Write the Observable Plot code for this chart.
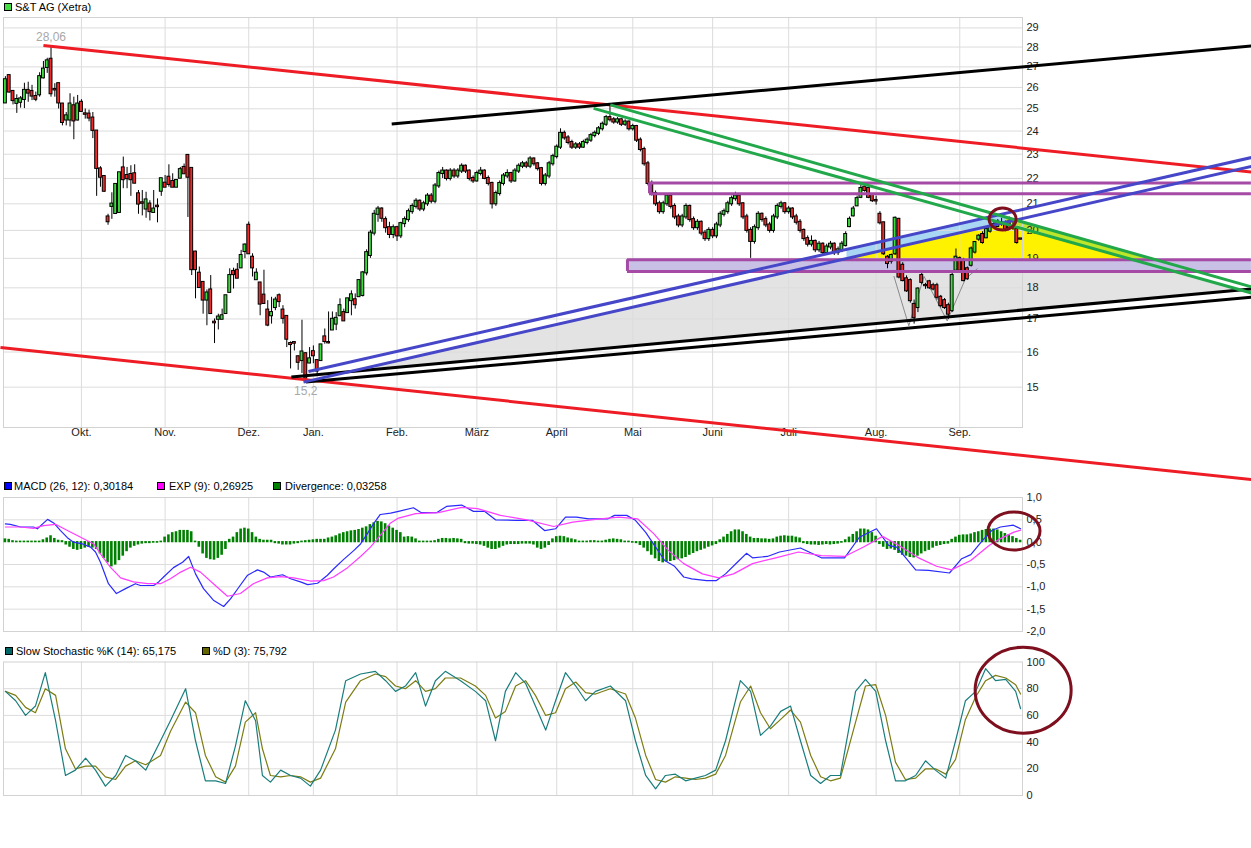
<!DOCTYPE html>
<html><head><meta charset="utf-8">
<script src="https://cdn.jsdelivr.net/npm/d3@7"></script>
<script src="https://cdn.jsdelivr.net/npm/@observablehq/plot@0.6"></script>
<style>
body{margin:0;background:#fff;font-family:"Liberation Sans",Arial,sans-serif;}
#wrap{position:relative;width:1251px;height:848px;overflow:hidden;background:#fff;}
.leg{position:absolute;font-size:11px;line-height:12px;height:12px;color:#000;white-space:nowrap;}
.sw{position:absolute;width:8px;height:8px;box-sizing:border-box;border:1px solid #000;}
#wrap svg{position:absolute;left:0;overflow:visible;}
</style></head><body><div id="wrap"></div>
<script>
// ---------- axis data ----------
const monthLabels = ["Okt.","Nov.","Dez.","Jan.","Feb.","März","April","Mai","Juni","Juli","Aug.","Sep."];
const monthIdx = [20,42,64,81,103,124,145,165,186,206,229,251];
const priceTicks = [15,16,17,18,19,20,21,22,23,24,25,26,27,28,29];
const macdTicks = [1,0.5,0,-0.5,-1,-1.5,-2];
const macdGrid = [0.5,-0.5,-1,-1.5];
const stochTicks = [100,80,60,40,20,0];
const stochGrid = [80,60,40,20];

// ---------- candles (trading-day index 0..267) ----------
const cOpen = [25.27,26.57,25.81,25.25,25.30,25.43,25.86,25.81,25.57,25.65,
26.46,26.97,27.38,25.90,26.18,25.22,24.49,24.49,25.14,24.49,
25.30,24.77,24.76,24.58,24.00,22.39,22.08,20.50,20.90,20.63,
20.67,22.43,22.12,22.16,22.19,21.39,21.04,20.80,20.99,20.67,
20.91,21.49,21.81,22.05,21.88,21.65,22.01,22.45,22.95,22.41,
19.22,18.49,18.18,17.60,17.93,16.90,16.99,16.99,17.17,17.85,
18.55,18.59,18.67,19.24,20.19,19.04,18.27,18.16,17.76,17.28,
17.10,17.36,17.74,17.28,17.08,16.25,16.28,15.86,15.75,15.95,
15.68,16.01,15.75,15.75,16.45,16.28,16.66,16.84,17.10,17.20,
17.20,17.58,17.61,17.71,
17.75,18.5,19.1,19.9,20.6,20.8,20.4,20.1,19.85,20.1,
19.8,20.25,20.4,20.7,20.9,21.1,20.8,21.0,21.3,21.1,
21.7,22.2,22.3,22.0,22.3,22.1,22.3,22.5,22.3,22.0,
21.9,22.2,22.3,22.0,21.8,21.0,21.4,21.8,22.1,22.2,
21.9,22.3,22.5,22.6,22.5,22.8,22.6,22.4,21.8,22.1,
22.6,22.9,23.3,23.9,23.7,23.5,23.3,23.4,23.3,23.5,
23.6,23.8,23.9,24.1,24.3,24.6,24.5,24.4,24.5,24.3,
24.4,24.1,24.2,23.6,23.2,22.6,21.8,21.4,21.0,20.7,
21.0,21.3,20.9,20.5,20.2,20.5,20.9,20.4,20.1,20.3,
19.9,19.7,20.0,19.8,20.2,20.6,20.7,21.0,21.2,21.3,
21.0,20.5,20.0,19.6,20.1,20.6,20.4,20.2,20.0,20.5,
20.9,21.0,20.7,20.8,20.5,20.3,20.0,19.7,19.5,19.6,
19.3,19.5,19.2,19.4,19.5,19.2,19.3,19.45,20.14,20.54,
20.92,21.25,21.65,21.6,21.35,21.13,20.6,20.28,19.04,18.9,
19.16,20.41,18.76,18.3,18.24,17.46,17.36,18.41,18.08,18.2,
18.07,18.07,17.69,17.58,17.42,17.26,18.59,18.99,18.93,18.64,
18.76,19.22,19.68,19.85,19.73,19.97,20.21,20.14,20.27,20.26,
20.31,20.11,20.03,19.69];
const cHigh = [26.52,26.60,25.85,25.65,25.57,26.20,26.25,26.10,25.78,26.71,
27.27,27.43,28.06,26.18,26.20,25.25,24.83,25.70,25.54,25.62,
25.42,24.99,24.94,24.83,24.02,22.48,22.10,20.60,21.43,21.76,
22.23,22.88,22.45,22.52,22.56,21.52,21.52,21.45,21.12,21.52,
21.19,21.99,22.12,22.56,22.19,21.92,22.45,22.59,22.99,22.41,
19.25,18.70,18.18,17.93,18.41,17.00,17.15,17.31,17.74,18.64,
18.66,18.82,19.28,19.51,20.31,19.16,18.64,18.18,18.59,17.58,
17.69,17.69,17.80,17.42,17.08,16.30,16.28,15.89,16.96,15.97,
16.13,16.18,15.75,16.21,16.69,17.22,17.22,17.20,17.64,17.31,
17.64,17.90,17.80,18.24,
18.55,19.3,20.0,20.75,20.9,20.85,20.5,20.3,20.2,20.15,
20.3,20.5,20.8,21.0,21.2,21.15,21.1,21.4,21.4,21.8,
22.3,22.45,22.35,22.4,22.4,22.4,22.6,22.55,22.35,22.1,
22.3,22.45,22.35,22.1,21.85,21.5,21.9,22.2,22.35,22.25,
22.4,22.6,22.7,22.7,22.9,22.85,22.65,22.45,22.2,22.7,
23.0,23.4,24.1,24.0,23.8,23.6,23.5,23.5,23.6,23.7,
23.9,24.0,24.2,24.4,24.7,25.15,24.6,24.6,24.55,24.5,
24.45,24.3,24.25,23.7,23.3,22.7,21.9,21.5,21.1,21.1,
21.4,21.35,21.0,20.6,20.6,21.0,20.95,20.5,20.4,20.35,
20.0,20.1,20.1,20.3,20.7,20.8,21.1,21.3,21.45,21.35,
21.05,20.6,20.1,20.2,20.7,20.65,20.5,20.3,20.6,21.0,
21.1,21.05,20.9,20.85,20.6,20.4,20.05,19.8,19.8,19.65,
19.6,19.55,19.5,19.6,19.55,19.4,19.6,19.95,20.5,20.9,
21.3,21.75,21.75,21.65,21.4,21.3,20.7,20.3,19.1,19.15,
20.5,20.45,18.85,18.4,18.3,17.6,18.0,18.5,18.15,18.25,
18.15,18.15,17.75,17.65,17.5,18.5,19.33,19.05,19.0,18.7,
19.4,19.6,19.85,19.95,20.1,20.2,20.35,20.4,20.45,20.35,
20.5,20.3,20.1,19.7];
const cLow = [25.25,25.73,25.18,24.79,25.03,25.01,25.30,25.38,25.33,25.54,
26.41,26.68,25.54,25.54,24.99,24.23,24.23,24.18,23.62,24.45,
24.85,24.53,24.41,23.67,21.29,21.65,21.45,20.19,20.41,20.63,
20.67,21.59,21.59,21.29,21.79,20.60,20.54,20.45,20.35,20.67,
20.28,21.29,21.65,21.65,21.65,21.65,22.01,22.19,20.48,18.41,
17.64,18.01,17.15,16.79,17.17,16.25,16.66,16.99,17.17,17.85,
17.96,18.32,18.67,18.99,19.16,18.36,18.27,17.10,17.49,16.76,
16.84,17.26,17.36,16.84,16.13,15.51,16.03,15.47,15.38,15.20,
15.66,15.66,15.29,15.75,16.23,16.24,16.66,16.64,17.10,16.94,
17.20,17.10,17.31,17.71,
17.7,18.4,19.0,19.8,20.3,20.3,19.9,19.7,19.7,19.6,
19.7,20.1,20.3,20.6,20.8,20.7,20.7,20.9,21.0,21.0,
21.6,22.0,21.9,21.9,22.0,22.0,22.2,22.2,21.9,21.8,
21.85,22.1,21.95,21.7,20.8,20.9,21.3,21.7,22.0,21.8,
21.85,22.2,22.4,22.4,22.4,22.5,22.3,21.7,21.7,22.0,
22.5,22.8,23.2,23.6,23.4,23.2,23.2,23.2,23.25,23.4,
23.5,23.7,23.8,24.0,24.2,24.4,24.3,24.3,24.2,24.2,
24.0,24.0,23.5,23.1,22.5,21.7,21.3,20.9,20.6,20.6,
20.9,20.8,20.4,20.1,20.1,20.4,20.3,20.0,20.0,19.8,
19.6,19.6,19.7,19.7,20.1,20.5,20.6,20.9,21.1,20.9,
20.4,19.9,19.0,19.5,20.0,20.3,20.1,19.9,19.9,20.4,
20.8,20.6,20.6,20.4,20.2,19.9,19.6,19.4,19.4,19.2,
19.2,19.1,19.1,19.3,19.1,19.1,19.2,19.4,20.1,20.5,
20.9,21.2,21.45,21.2,21.05,20.95,20.2,19.1,18.64,18.8,
19.1,18.3,18.2,17.85,17.5,16.84,17.2,18.1,17.95,17.95,
17.9,17.6,17.35,17.3,16.99,17.2,18.5,18.5,18.2,18.25,
18.7,19.15,19.6,19.5,19.7,19.9,20.1,20.1,20.15,19.95,
20.0,20.0,19.5,19.66];
const cClose = [26.37,25.78,25.38,25.43,25.46,25.86,25.73,25.59,25.44,26.52,
26.89,27.30,25.70,25.88,25.27,24.38,24.68,25.22,24.45,25.22,
24.88,24.75,24.58,24.03,22.41,22.05,21.49,20.32,20.99,21.76,
22.23,21.95,21.99,21.95,21.81,20.99,21.02,21.15,20.70,20.80,
20.89,21.99,21.65,21.76,21.65,21.92,22.36,22.19,22.05,18.61,
18.61,18.01,17.60,17.83,17.17,16.88,17.06,17.10,17.74,18.41,
18.44,18.32,19.10,19.47,19.16,18.67,18.49,17.47,17.49,16.81,
17.20,17.60,17.55,17.02,16.38,16.22,16.26,15.70,16.00,15.25,
15.80,15.89,15.45,16.21,16.31,16.27,16.99,17.02,17.42,16.94,
17.64,17.77,17.45,18.24,
18.5,19.2,19.9,20.6,20.8,20.45,20.1,19.85,20.1,19.8,
20.25,20.4,20.7,20.9,21.1,20.8,21.0,21.3,21.1,21.7,
22.2,22.3,22.0,22.3,22.1,22.3,22.5,22.3,22.0,21.9,
22.2,22.3,22.0,21.8,21.0,21.4,21.8,22.1,22.2,21.9,
22.3,22.5,22.6,22.5,22.8,22.6,22.4,21.8,22.1,22.6,
22.9,23.3,23.9,23.7,23.5,23.3,23.4,23.3,23.5,23.6,
23.8,23.9,24.1,24.3,24.6,24.5,24.4,24.5,24.3,24.4,
24.1,24.2,23.6,23.2,22.6,21.8,21.4,21.0,20.7,21.0,
21.3,20.9,20.5,20.2,20.5,20.9,20.4,20.1,20.3,19.9,
19.7,20.0,19.8,20.2,20.6,20.7,21.0,21.2,21.3,21.0,
20.5,20.0,19.6,20.1,20.6,20.4,20.2,20.0,20.5,20.9,
21.0,20.7,20.8,20.5,20.3,20.0,19.7,19.5,19.6,19.3,
19.5,19.2,19.4,19.5,19.2,19.3,19.5,19.85,20.41,20.8,
21.2,21.6,21.52,21.25,21.12,21.11,20.28,19.16,18.82,19.1,
20.45,18.36,18.24,17.9,17.58,17.04,17.96,18.18,18.07,18.0,
17.96,17.69,17.42,17.36,17.15,18.41,19.04,18.59,18.24,18.3,
19.33,19.56,19.79,19.56,20.03,20.14,20.19,20.31,20.25,20.03,
20.08,20.09,19.56,19.68];

// ---------- drawn trend lines: index/price endpoints ----------
const lineColor = ["#ee1c24","#ee1c24","#000000","#000000","#000000","#4646c8","#4646c8","#22a84a","#22a84a"];
const lineI1 = [10, -1.3, 101.6, 75.2, 79.0, 79.7, 78.4, 159.1, 154.7];
const lineP1 = [28.08, 16.13, 24.31, 15.28, 15.14, 15.44, 15.14, 25.18, 25.02];
const lineI2 = [327.7, 327.7, 327.7, 327.7, 327.7, 327.7, 327.7, 327.7, 327.7];
const lineP2 = [22.26, 12.66, 28.05, 17.96, 17.69, 22.86, 22.49, 18.03, 17.83];

// horizontal zones (purple)
const zoneI1 = [169.4, 163.6];
const zoneI2 = [327.7, 327.7];
const zoneLo = [21.39, 18.55];
const zoneHi = [21.82, 18.95];
const zoneFill = ["none", "#c9c0e6"];

// filled areas
const grayI = [89.7, 263.0, 325.5];
const grayP = [15.39, 20.30, 17.93];
const yellowI = [221.2, 263.0, 295.7];
const yellowP = [18.99, 20.30, 18.99];
const blueBandI = [221.2, 263.0, 263.0, 221.2];
const blueBandP = [19.32, 20.63, 20.30, 18.99];
const limeBandI = [263.0, 301.2, 295.7, 263.0];
const limeBandP = [20.49, 18.99, 18.99, 20.32];

// thin grey W pattern
const wI = [233.7, 237.6, 241.6, 247.7, 252.5, 255.6];
const wP = [18.38, 16.79, 18.38, 16.94, 18.30, 18.64];

// ---------- MACD (read points) ----------
const macdI = [0,1.3,4,7.4,8.4,11.1,12.7,14.5,16.3,17.9,20.3,22.4,23.7,25,27.1,29.2,31.6,34.2,35.5,39,40.3,41.6,44.2,46.6,48.2,50,52.1,54.7,57.4,59.2,61.3,63.7,66.3,67.9,69.7,72.9,75,77.6,79.5,82.1,84.7,86.3,88.9,91.6,93.4,95.2,96.8,98.6,101.3,103.4,
107.3,109.4,113.4,116,120,123.1,126,128.9,134.2,138.6,141.8,144.7,147.3,150.2,153.4,158.4,160.2,163.4,165.7,168.4,170.7,173.4,176,178.4,180.5,184.4,187,189.4,192.5,194.9,196.5,200.4,203.6,209.1,214.6,220.7,224.6,229.1,232.3,234.4,236.7,239.4,242.8,248.3,251.5,253.9,257,259.4,261.7,265.1,267];
const macdV = [0.41,0.40,0.34,0.34,0.30,0.51,0.43,0.26,0.10,0.0,-0.04,-0.11,-0.22,-0.45,-0.93,-1.15,-1.04,-0.93,-0.97,-0.97,-0.89,-0.78,-0.57,-0.45,-0.32,-0.71,-1.04,-1.30,-1.44,-1.27,-1.02,-0.74,-0.62,-0.67,-0.78,-0.73,-0.82,-0.89,-0.95,-0.92,-0.74,-0.60,-0.39,-0.19,-0.04,0.19,0.41,0.62,0.65,0.69,
0.77,0.66,0.66,0.80,0.83,0.69,0.69,0.50,0.49,0.49,0.26,0.30,0.56,0.56,0.52,0.52,0.60,0.60,0.49,0.22,-0.07,-0.41,-0.54,-0.78,-0.82,-0.86,-0.86,-0.71,-0.45,-0.25,-0.35,-0.32,-0.22,-0.13,-0.35,-0.35,0.11,0.30,-0.07,-0.11,-0.34,-0.62,-0.63,-0.69,-0.37,-0.28,0.04,0.26,0.34,0.38,0.30];
const expI = [0,4,7.4,10,13.2,16.3,19.8,23.2,25,27.6,30.3,33.7,37.4,40.8,43.4,46.1,48.7,51.3,54.7,58.4,61.8,65.2,68.9,72.4,75.8,80.2,83.7,86.3,90,93.4,96,98.6,101.3,103.4,
107.9,113.9,120,124.2,130.2,137.1,144.2,149.2,155.2,161.3,166.3,170.5,174.4,178.4,183.3,187.6,191.5,196.5,202.6,208.6,214.6,220.7,225.7,230.7,234.9,239.9,244.9,248.8,253.9,258.8,261.7,265.1,267];
const expV = [0.34,0.34,0.31,0.37,0.40,0.26,0.11,-0.04,-0.26,-0.56,-0.80,-0.89,-0.93,-0.93,-0.82,-0.67,-0.56,-0.67,-0.93,-1.21,-1.15,-0.93,-0.80,-0.77,-0.80,-0.87,-0.86,-0.78,-0.57,-0.32,-0.11,0.15,0.43,0.54,
0.64,0.66,0.78,0.75,0.60,0.50,0.35,0.45,0.51,0.56,0.52,0.19,-0.19,-0.48,-0.71,-0.80,-0.71,-0.48,-0.35,-0.22,-0.30,-0.32,-0.11,0.13,-0.07,-0.34,-0.54,-0.62,-0.41,-0.07,0.08,0.22,0.27];
const histV = [0.06,0.05,0.02,0.01,0.01,0.01,0.01,0.01,0.01,0.01,
0.04,0.08,0.13,0.07,0.03,0.02,-0.05,-0.10,-0.15,-0.17,
-0.15,-0.12,-0.10,-0.12,-0.15,-0.25,-0.35,-0.45,-0.54,-0.50,
-0.40,-0.30,-0.20,-0.12,-0.08,-0.05,-0.03,-0.02,-0.02,-0.01,
-0.01,0.01,0.10,0.15,0.20,0.22,0.25,0.25,0.25,0.22,
0.01,-0.10,-0.25,-0.35,-0.38,-0.39,-0.35,-0.28,-0.15,0.05,
0.10,0.20,0.28,0.30,0.28,0.20,0.10,0.05,0.03,0.03,
0.03,-0.02,-0.03,-0.05,-0.05,-0.05,-0.03,-0.02,0.01,0.02,
0.03,0.04,0.05,0.05,0.05,0.08,0.10,0.13,0.17,0.20,
0.22,0.24,0.25,0.27,0.30,0.33,0.38,0.42,0.45,0.44,
0.40,0.35,0.30,0.25,0.20,
0.10,0.11,0.10,0.06,
0.01,0.01,0.01,0.01,0.02,
0.05,0.07,0.07,0.06,0.07,0.06,0.05,
-0.02,-0.03,-0.03,-0.04,-0.05,-0.08,-0.12,
-0.15,-0.15,-0.12,-0.08,
-0.05,-0.04,-0.04,-0.04,-0.03,-0.03,-0.03,-0.05,
-0.12,-0.15,-0.12,-0.06,
0.06,0.11,0.12,0.11,0.08,0.06,0.04,
0.01,0.01,0.01,0.02,0.02,0.01,0.01,0.03,
0.05,0.06,0.05,0.04,
0.01,0.01,-0.01,-0.02,
-0.06,-0.12,-0.20,-0.28,-0.36,-0.42,-0.45,-0.43,-0.42,-0.40,-0.38,-0.36,-0.33,-0.28,
-0.24,-0.20,-0.17,-0.14,-0.10,-0.07,-0.04,
0.04,0.10,0.16,0.22,0.26,0.26,0.22,0.16,
0.10,0.07,0.07,0.06,0.06,0.05,0.06,
0.10,0.12,0.13,0.12,0.12,0.10,0.08,
-0.02,-0.04,-0.05,-0.05,-0.06,-0.05,-0.04,-0.05,-0.04,-0.03,-0.01,
0.04,0.10,0.16,0.22,0.28,0.28,0.26,0.20,0.12,
-0.04,-0.10,-0.15,-0.14,-0.17,-0.24,-0.28,-0.30,-0.33,-0.34,-0.30,-0.25,-0.20,-0.17,-0.12,-0.08,-0.06,-0.04,-0.03,
0.05,0.10,0.14,0.15,0.15,0.17,0.20,0.22,0.25,0.27,0.28,0.28,0.26,0.22,0.18,0.15,0.11,0.07,0.03];

// ---------- Slow stochastic (read points) ----------
const kI = [0,2.7,5.3,7.9,10.5,13.2,15.8,18.4,21.1,23.7,26.3,29,31.6,34.2,36.9,40.8,43.4,47.4,50,52.6,55.3,57.9,60.5,63.1,65.8,67.6,69.7,72.4,75,77.6,80.2,82.9,86.8,89.5,93.4,97.3,100,102.6,105.2,107.9,110.5,113.1,115.7,119.7,123.6,126.3,128.9,131.5,134.2,136.8,139.4,142.1,144.7,147.3,150,152.6,155.2,159.1,163.1,165.7,168.4,171,173.6,176.2,178.9,181.5,184.1,186.8,189.4,193.3,196,198.6,201.2,203.9,206.5,209.1,211.8,214.4,217,219.6,223.6,226.2,228.9,231.5,234.1,236.7,239.4,242,244.6,247.3,249.9,252.5,255.2,257.8,260.4,263.1,265.7,267];
const kV = [78,71,60,67,92,56,15,19,28,19,7,15,30,26,19,41,56,80,41,11,11,9,37,71,56,15,10,19,15,13,7,19,49,86,91,93,86,78,82,92,67,86,93,86,78,71,41,78,92,84,67,49,71,92,82,71,78,82,71,41,15,5,15,16,11,13,15,19,41,86,78,45,52,63,67,41,15,9,15,15,78,87,78,41,11,11,15,26,19,13,41,71,78,95,86,87,78,65];
const dV = [78,75,66,62,80,75,35,20,22,22,14,12,22,26,23,30,48,70,62,30,14,10,22,55,62,35,15,14,15,14,10,13,35,70,86,91,89,82,80,86,78,80,88,88,82,75,58,63,82,86,75,60,62,80,85,77,76,80,76,58,30,12,10,14,13,12,13,16,30,70,82,62,50,57,64,55,30,14,11,13,55,82,83,60,25,12,13,20,20,16,27,57,74,86,90,88,83,76];

// ---------- annotations ----------
const noteI = [12, 79];
const noteP = [28.06, 15.2];
const noteText = ["28,06", "15,2"];
const ringMain = [{i:262.4, v:20.40, rx:13.5, ry:11}];
const ringMacd = [{i:265.4, v:0.24, rx:26, ry:19}];
const ringStoch = [{i:267.8, v:78.5, rx:48, ry:43}];

// ---------- build ----------
const candles = cOpen.map((o,i)=>({i, o, h:cHigh[i], l:cLow[i], c:cClose[i]}));
const ups = candles.filter(d=>d.c>=d.o), downs = candles.filter(d=>d.c<d.o);
const trend = lineColor.map((c,k)=>({c, x1:lineI1[k], y1:lineP1[k], x2:lineI2[k], y2:lineP2[k]}));
const zones = zoneI1.map((x,k)=>({x1:x, x2:zoneI2[k], y1:zoneLo[k], y2:zoneHi[k], f:zoneFill[k]}));
const poly = (I,P)=>I.map((i,k)=>({i, p:P[k]}));
const notes = noteI.map((i,k)=>({i, p:noteP[k], t:noteText[k]}));
const macd = macdI.map((i,k)=>({i, v:macdV[k]}));
const expL = expI.map((i,k)=>({i, v:expV[k]}));
const hist = histV.map((v,i)=>({i, v}));
const kL = kI.map((i,k)=>({i, v:kV[k]}));
const dL = kI.map((i,k)=>({i, v:dV[k]}));

const W = 1251, ML = 3, MR = 229;
const xDomain = [-0.5, 267.5];
const GRID = "#dcdcdc", FRAME = "#d2d2d2";
const fontStyle = {background:"transparent", overflow:"visible", fontFamily:"'Liberation Sans', Arial, sans-serif", fontSize:"11px"};
const comma = v => v.toFixed(1).replace(".", ",");

function ringMark(data){
  return (index, scales) => {
    const g = document.createElementNS("http://www.w3.org/2000/svg","g");
    for (const d of data){
      const e = document.createElementNS("http://www.w3.org/2000/svg","ellipse");
      e.setAttribute("cx", scales.x(d.i)); e.setAttribute("cy", scales.y(d.v));
      e.setAttribute("rx", d.rx); e.setAttribute("ry", d.ry);
      e.setAttribute("fill","none"); e.setAttribute("stroke","#7d0f1e"); e.setAttribute("stroke-width","3");
      g.appendChild(e);
    }
    return g;
  };
}

const main = Plot.plot({
  width:W, height:445, marginLeft:ML, marginRight:MR, marginTop:17, marginBottom:18,
  style:fontStyle,
  x:{domain:xDomain, axis:null},
  y:{type:"log", domain:[13.93, 29.56], axis:null},
  marks:[
    Plot.line(poly(grayI,grayP), {x:"i", y:"p", fill:"#e3e3e3", stroke:"none"}),
    Plot.line(poly(yellowI,yellowP), {x:"i", y:"p", fill:"#fff200", stroke:"none"}),
    Plot.line(poly(blueBandI,blueBandP), {x:"i", y:"p", fill:"#a9d6f2", stroke:"none"}),
    Plot.line(poly(limeBandI,limeBandP), {x:"i", y:"p", fill:"#bde52a", stroke:"none"}),
    Plot.ruleY(priceTicks, {stroke:GRID}),
    Plot.ruleX(monthIdx, {stroke:GRID}),
    Plot.frame({stroke:FRAME}),
    Plot.text(priceTicks, {y:d=>d, frameAnchor:"right", dx:4, textAnchor:"start", text:d=>String(d), fill:"#222"}),
    Plot.text(monthIdx, {x:d=>d, frameAnchor:"bottom", dy:8, text:(d,k)=>monthLabels[k], fill:"#222"}),
    Plot.rect(zones.filter(z=>z.f!=="none"), {x1:"x1", x2:"x2", y1:"y1", y2:"y2", fill:"#c9c0e6"}),
    Plot.line(poly(wI,wP), {x:"i", y:"p", stroke:"#8a8a8a", strokeWidth:1}),
    Plot.ruleX(candles, {x:"i", y1:"l", y2:"h", stroke:"#000", strokeWidth:1}),
    Plot.rect(ups, {x1:d=>d.i-0.38, x2:d=>d.i+0.38, y1:"o", y2:"c", fill:"#3ddc3d", stroke:"#000", strokeWidth:1, insetTop:-0.5, insetBottom:-0.5}),
    Plot.rect(downs, {x1:d=>d.i-0.38, x2:d=>d.i+0.38, y1:"o", y2:"c", fill:"#ee2a2a", stroke:"#000", strokeWidth:1, insetTop:-0.5, insetBottom:-0.5}),
    Plot.ruleY(zones, {x1:"x1", x2:"x2", y:"y1", stroke:"#a54aa5", strokeWidth:3}),
    Plot.ruleY(zones, {x1:"x1", x2:"x2", y:"y2", stroke:"#a54aa5", strokeWidth:3}),
    Plot.ruleX(zones, {x:"x1", y1:"y1", y2:"y2", stroke:"#a54aa5", strokeWidth:3}),
    Plot.link(trend, {x1:"x1", y1:"y1", x2:"x2", y2:"y2", stroke:"c", strokeWidth:3}),
    Plot.text(notes.slice(0,1), {x:"i", y:"p", text:"t", dy:-9, fill:"#a8a8a8", fontSize:12}),
    Plot.text(notes.slice(1), {x:"i", y:"p", text:"t", dy:11, fill:"#a8a8a8", fontSize:12}),
    ringMark(ringMain)
  ]
});

const macdPlot = Plot.plot({
  width:W, height:150, marginLeft:ML, marginRight:MR, marginTop:7, marginBottom:9,
  style:fontStyle,
  x:{domain:xDomain, axis:null},
  y:{domain:[-2,1], axis:null},
  marks:[
    Plot.ruleY(macdGrid, {stroke:GRID}),
    Plot.ruleX(monthIdx, {stroke:GRID}),
    Plot.frame({stroke:FRAME}),
    Plot.text(macdTicks, {y:d=>d, frameAnchor:"right", dx:4, textAnchor:"start", text:comma, fill:"#222"}),
    Plot.rect(hist, {x1:d=>d.i-0.34, x2:d=>d.i+0.34, y1:0, y2:"v", fill:"#008000", insetTop:-0.6, insetBottom:-0.6}),
    Plot.line(macd, {x:"i", y:"v", stroke:"#2a2aff", strokeWidth:1.2}),
    Plot.line(expL, {x:"i", y:"v", stroke:"#ff3cff", strokeWidth:1.2}),
    ringMark(ringMacd)
  ]
});

const stochPlot = Plot.plot({
  width:W, height:150, marginLeft:ML, marginRight:MR, marginTop:6.5, marginBottom:10,
  style:fontStyle,
  x:{domain:xDomain, axis:null},
  y:{domain:[0,100], axis:null},
  marks:[
    Plot.ruleY(stochGrid, {stroke:GRID}),
    Plot.ruleX(monthIdx, {stroke:GRID}),
    Plot.frame({stroke:FRAME}),
    Plot.text(stochTicks, {y:d=>d, frameAnchor:"right", dx:4, textAnchor:"start", text:d=>String(d), fill:"#222"}),
    Plot.line(dL, {x:"i", y:"v", stroke:"#7c7c14", strokeWidth:1.2}),
    Plot.line(kL, {x:"i", y:"v", stroke:"#1a7d7d", strokeWidth:1.2}),
    ringMark(ringStoch)
  ]
});

const wrap = document.getElementById("wrap");
function place(svg, top){ svg.style.top = top + "px"; wrap.appendChild(svg); }
place(stochPlot, 655);
place(macdPlot, 490);
place(main, 0);

function legend(top, items){
  for (const it of items){
    const s = document.createElement("span"); s.className="sw";
    s.style.left = it.sx + "px"; s.style.top = (top+2) + "px"; s.style.background = it.color;
    wrap.appendChild(s);
    const t = document.createElement("div"); t.className="leg";
    t.style.left = it.tx + "px"; t.style.top = top + "px"; t.textContent = it.text;
    wrap.appendChild(t);
  }
}
legend(0.5, [{sx:4, tx:15, color:"#44dd44", text:"S&T AG (Xetra)"}]);
legend(480, [{sx:4, tx:14, color:"#0000ff", text:"MACD (26, 12): 0,30184"},
             {sx:157, tx:169, color:"#ff00ff", text:"EXP (9): 0,26925"},
             {sx:273, tx:285, color:"#008000", text:"Divergence: 0,03258"}]);
legend(644.5, [{sx:5, tx:16, color:"#006666", text:"Slow Stochastic %K (14): 65,175"},
               {sx:202, tx:213, color:"#666600", text:"%D (3): 75,792"}]);
</script></body></html>
